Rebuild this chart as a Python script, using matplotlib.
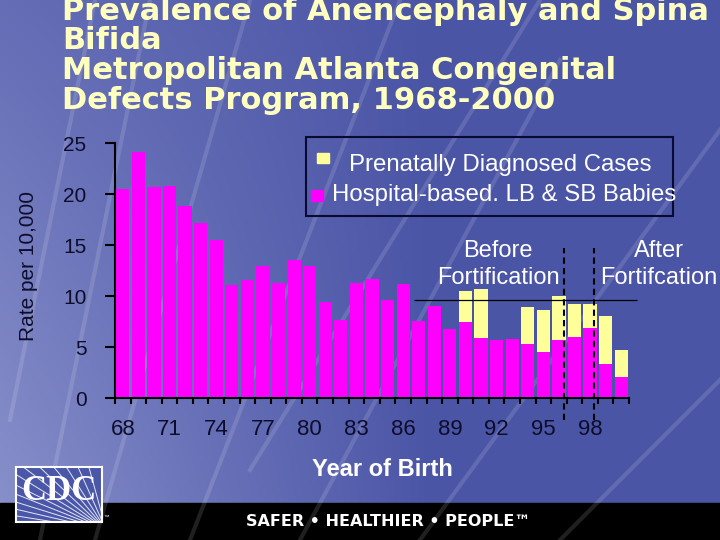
import numpy as np
import matplotlib
matplotlib.use("Agg")
import matplotlib.pyplot as plt
from matplotlib import patches

plt.rcParams['font.family'] = ['Liberation Sans', 'DejaVu Sans']

# data (rate per 10,000 births)
years = list(range(1968, 2001))
hospital = [20.5, 24.1, 20.7, 20.8, 18.9, 17.2, 15.5, 11.1, 11.6, 13.0,
            11.3, 13.6, 13.0, 9.4, 7.7, 11.3, 11.7, 9.6, 11.2, 7.6,
            9.0, 6.8, 7.5, 5.9, 5.7, 5.8, 5.3, 4.5, 5.7, 6.0,
            6.9, 3.4, 2.1]
prenatal = [0, 0, 0, 0, 0, 0, 0, 0, 0, 0,
            0, 0, 0, 0, 0, 0, 0, 0, 0, 0,
            0, 0, 3.0, 4.8, 0, 0, 3.7, 4.2, 4.3, 3.2,
            2.3, 4.7, 2.6]
tick_years = [1968, 1971, 1974, 1977, 1980, 1983, 1986, 1989, 1992, 1995, 1998]
tick_labels = ["68", "71", "74", "77", "80", "83", "86", "89", "92", "95", "98"]
ref_level = 9.6
ref_span = (1986.7, 2001.0)
fortification_marks = [1996.33, 1998.25]

title = ("Prevalence of Anencephaly and Spina\nBifida\n"
         "Metropolitan Atlanta Congenital\nDefects Program, 1968-2000")

MAGENTA = '#ff00ff'
YELLOW = '#ffff99'
DARK = '#0d0d2b'
W, H = 720, 540

fig = plt.figure(figsize=(7.2, 5.4), dpi=100)

# slide background: blue gradient, light streaks, black footer band
bg = fig.add_axes([0, 0, 1, 1], zorder=-10)
gx, gy = np.meshgrid(np.linspace(0, 1, 360), np.linspace(1, 0, 270))
f = np.clip(1 - gx / 0.6, 0, 1) * (0.4 + 0.6 * (1 - gy))
c_dark = np.array([0x4b, 0x55, 0xa6]) / 255
c_light = np.array([0x8a, 0x92, 0xcc]) / 255
bg.imshow(c_dark + (c_light - c_dark) * f[..., None], extent=[0, W, H, 0], aspect='auto')
streaks = [((40, 540), (150, 0)), ((95, 540), (250, 0)), ((190, 540), (400, 0)),
           ((300, 540), (560, 60)), ((420, 540), (720, 130)), ((560, 540), (720, 380)),
           ((250, 470), (540, 0)), ((10, 420), (95, 0))]
for (x0, y0), (x1, y1) in streaks:
    bg.plot([x0, x1], [y0, y1], color='white', alpha=0.13, lw=3)
bg.add_patch(patches.Rectangle((0, 503), W, 37, color='black'))
bg.set_xlim(0, W)
bg.set_ylim(H, 0)
bg.axis('off')

# multi-line text with va='baseline' sits on the last line's baseline
fig.text(62 / W, 1 - 108.7 / H, title, family='DejaVu Sans', weight='bold',
         fontsize=22, color='#ffffc0', va='baseline', linespacing=1.03)

# chart
ax = fig.add_axes([115 / W, 1 - 398.3 / H, 514 / W, 255 / H])
ax.patch.set_alpha(0)
ax.bar(years, hospital, width=0.85, color=MAGENTA, zorder=2)
ax.bar(years, prenatal, bottom=hospital, width=0.85, color=YELLOW, zorder=2)
ax.set_xlim(1967.5, 2000.5)
ax.set_ylim(0, 25)
for s in ['top', 'right']:
    ax.spines[s].set_visible(False)
for s in ['left', 'bottom']:
    ax.spines[s].set_linewidth(1.5)
    ax.spines[s].set_color('black')

ax.set_yticks(range(0, 26, 5))
ax.tick_params(axis='y', direction='out', length=7, width=1.5, pad=13.5,
               labelsize=15, labelcolor=DARK, color='black')
ax.set_xticks(tick_years, tick_labels)
ax.set_xticks(np.arange(1967.5, 2001, 1), minor=True)
ax.tick_params(axis='x', which='major', length=0, pad=15, labelsize=16, labelcolor=DARK)
ax.tick_params(axis='x', which='minor', direction='out', length=4.5, width=1.5, color='black')

ax.set_xlabel("Year of Birth", fontsize=17, weight='bold', color='white')
ax.xaxis.set_label_coords(0.52, -0.234)
ax.xaxis.label.set_va('top')
ax.set_ylabel("Rate per 10,000", fontsize=15, color=DARK)
ax.yaxis.set_label_coords(-0.15, 0.52)

ax.hlines(ref_level, *ref_span, colors='black', lw=0.9, clip_on=False, zorder=3)
ax.vlines(fortification_marks, -2.1, 14.7, colors='black', linestyles=(0, (3, 2)),
          lw=1.5, clip_on=False, zorder=3)

fig.text(498 / W, 1 - 240 / H, "Before\nFortification", color='white', fontsize=17,
         ha='center', va='top', multialignment='center', linespacing=1.3)
fig.text(659 / W, 1 - 240 / H, "After\nFortifcation", color='white', fontsize=17,
         ha='center', va='top', multialignment='center', linespacing=1.3)

# legend box, drawn by hand to keep the slide's uneven layout
fig.patches.append(patches.Rectangle((305.7 / W, 1 - 216 / H), 367 / W, 78.7 / H,
                                     transform=fig.transFigure, fill=False,
                                     edgecolor='#0a0a30', lw=1.5))
fig.patches.append(patches.Rectangle((316.7 / W, 1 - 163.3 / H), 12.3 / W, 10.6 / H,
                                     transform=fig.transFigure, color=YELLOW))
fig.patches.append(patches.Rectangle((310.7 / W, 1 - 201 / H), 12.6 / W, 11 / H,
                                     transform=fig.transFigure, color=MAGENTA))
fig.text(349 / W, 1 - 165 / H, "Prenatally Diagnosed Cases", color='white',
         fontsize=17.3, va='center')
fig.text(331.7 / W, 1 - 195 / H, "Hospital-based. LB & SB Babies", color='white',
         fontsize=17.3, va='center')

# CDC logo
lg = fig.add_axes([16 / W, 1 - 522 / H, 86 / W, 55 / H])
lg.set_facecolor('#4a56a8')
lg.set_xlim(0, 1)
lg.set_ylim(0, 1)
lg.set_xticks([])
lg.set_yticks([])
for s in lg.spines.values():
    s.set_color('white')
    s.set_linewidth(1.5)
for ang in np.radians(np.linspace(100, 172, 13)):
    lg.plot([1.05, 1.05 + 2 * np.cos(ang)], [-0.15, -0.15 + 2 * np.sin(ang)],
            color='white', lw=0.7, alpha=0.85)
lg.text(0.5, 0.56, "CDC", family='Liberation Serif', weight='bold', fontsize=25,
        color='white', ha='center', va='center')
fig.text(104 / W, 1 - 519 / H, "™", color='white', fontsize=4)

fig.text(388 / W, 1 - 521.5 / H, "SAFER • HEALTHIER • PEOPLE™", family='DejaVu Sans',
         weight='bold', fontsize=11.5, color='white', ha='center', va='center')

fig.savefig("out.png", dpi=100)
